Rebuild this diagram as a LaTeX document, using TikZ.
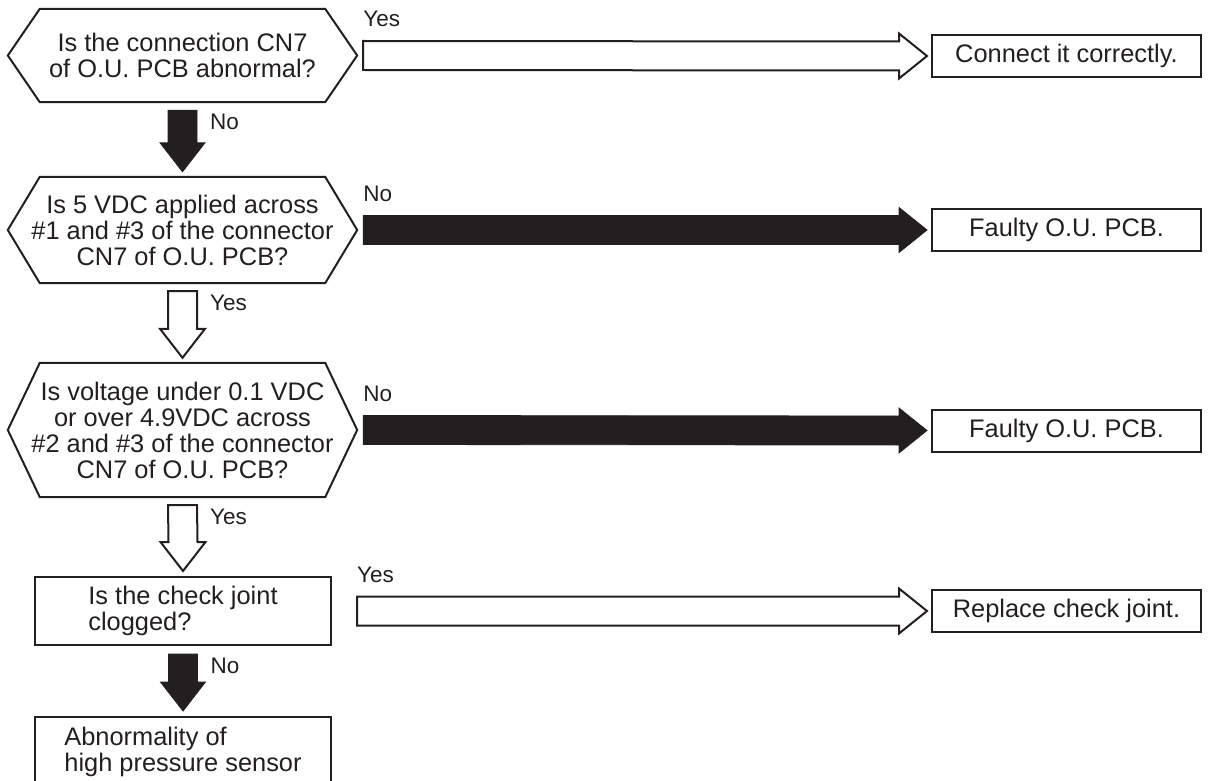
\documentclass[tikz,border=0pt]{standalone}
\usepackage{fontspec}
\setmainfont{Liberation Sans}
\usetikzlibrary{calc}
\definecolor{ink}{RGB}{35,31,32}
\newcommand{\bodyfont}{\fontsize{25.4}{26}\selectfont}
\newcommand{\lblfont}{\fontsize{22.5}{24}\selectfont}

\tikzset{
  edge/.style={draw=ink, line width=2pt, line join=miter},
  hexa/.style={minimum width=349pt, inner sep=0pt, align=center, font=\bodyfont, text=ink},
  box/.style={edge, minimum width=296pt, inner sep=0pt, align=left, font=\bodyfont, text=ink},
  result/.style={edge, minimum width=269pt, minimum height=42pt, inner sep=0pt, font=\bodyfont, text=ink},
  lbl/.style={font=\lblfont, text=ink, inner sep=0pt, anchor=base west},
  blk/.style={fill=ink, draw=ink, line width=0.8pt, line join=miter},
  wht/.style={fill=white, edge},
}

% fat arrow down from #1 to #2, label #4
\newcommand{\vflow}[4]{%
  \draw[#3] ($(#1.south)+(-14.5,8)$) -- ($(#2.north)+(-14.5,-34)$) -- ($(#2.north)+(-22.5,-34)$)
    -- ($(#2.north)+(0,-5)$) -- ($(#2.north)+(22.5,-34)$) -- ($(#2.north)+(14.5,-34)$)
    -- ($(#1.south)+(14.5,8)$) -- cycle;
  \node[lbl] (l#2) at ($(#1.south)+(27.5,27)$) {#4};}
% fat arrow right from #1 to #2, label #4
\newcommand{\hflow}[4]{%
  \draw[#3] ($(#1)+(6,-14.5)$) -- ($(#2.west)+(-32,-14.5)$) -- ($(#2.west)+(-32,-22.5)$)
    -- ($(#2.west)+(-4,0)$) -- ($(#2.west)+(-32,22.5)$) -- ($(#2.west)+(-32,14.5)$)
    -- ($(#1)+(6,14.5)$) -- cycle;
  \node[lbl] (l#2) at ($(#1)+(6,-29)$) {#4};}

\begin{document}
\begin{tikzpicture}[x=1pt, y=-1pt]
\useasboundingbox (0,0) rectangle (1229,781);
\clip (0,0) rectangle (1229,781);
% ---- questions ----
\node[hexa, minimum height=93pt] (q1) at (182.5,55.5) {Is the connection CN7\\of O.U. PCB abnormal?};
\node[hexa, minimum height=106pt] (q2) at (182.5,230) {Is 5 VDC applied across\\\#1 and \#3 of the connector\\CN7 of O.U. PCB?};
\node[hexa, minimum height=134pt] (q3) at (182.5,430) {Is voltage under 0.1 VDC\\or over 4.9VDC across\\\#2 and \#3 of the connector\\CN7 of O.U. PCB?};
\foreach \h in {q1,q2,q3}
  \draw[edge] (\h.west) -- ($(\h.north west)+(32,0)$) -- ($(\h.north east)+(-32,0)$) -- (\h.east)
    -- ($(\h.south east)+(-32,0)$) -- ($(\h.south west)+(32,0)$) -- cycle;
\node[box, minimum height=68pt] (q4) at (183,611) {Is the check joint\\clogged?};
\node[box, minimum height=70pt] (q5) at (183,752) {Abnormality of\\high pressure sensor};
% ---- results ----
\node[result] (r1) at (1066.5,56) {Connect it correctly.};
\node[result] (r2) at (1066.5,230) {Faulty O.U. PCB.};
\node[result] (r3) at (1066.5,430.5) {Faulty O.U. PCB.};
\node[result] (r4) at (1066.5,611) {Replace check joint.};
\coordinate (s4) at ($(q4.east)+(19,0)$);
% ---- flow ----
\vflow{q1}{q2}{blk}{No}
\vflow{q2}{q3}{wht}{Yes}
\vflow{q3}{q4}{wht}{Yes}
\vflow{q4}{q5}{blk}{No}
\hflow{q1.east}{r1}{wht}{Yes}
\hflow{q2.east}{r2}{blk}{No}
\hflow{q3.east}{r3}{blk}{No}
\hflow{s4}{r4}{wht}{Yes}
\end{tikzpicture}
\end{document}
